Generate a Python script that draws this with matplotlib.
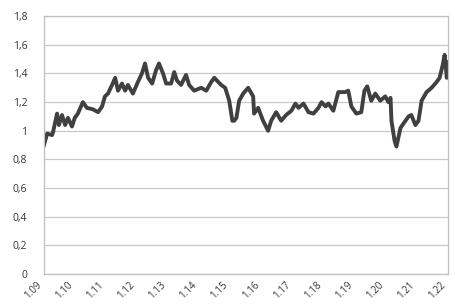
import numpy as np
import matplotlib
matplotlib.use('Agg')
import matplotlib.pyplot as plt

# traced points: x pixel position -> decimal year
years = [2009.00, 2009.10, 2009.26, 2009.29, 2009.42, 2009.48, 2009.58, 2009.68,
         2009.77, 2009.90, 2009.99, 2010.09, 2010.25, 2010.38, 2010.57, 2010.74,
         2010.87, 2010.96, 2011.06, 2011.19, 2011.29, 2011.38, 2011.51, 2011.61,
         2011.70, 2011.86, 2012.02, 2012.15, 2012.25, 2012.35, 2012.48, 2012.60,
         2012.70, 2012.83, 2012.93, 2013.09, 2013.19, 2013.28, 2013.41, 2013.57,
         2013.67, 2013.83, 2014.06, 2014.22, 2014.38, 2014.48, 2014.61, 2014.70,
         2014.83, 2014.96, 2015.06, 2015.12, 2015.19, 2015.28, 2015.41, 2015.57,
         2015.73, 2015.76, 2015.89, 2016.05, 2016.21, 2016.31, 2016.47, 2016.63,
         2016.79, 2016.96, 2017.09, 2017.19, 2017.35, 2017.51, 2017.67, 2017.83,
         2017.93, 2018.06, 2018.15, 2018.31, 2018.47, 2018.69, 2018.79, 2018.89,
         2019.05, 2019.21, 2019.31, 2019.40, 2019.53, 2019.66, 2019.82, 2019.98,
         2020.08, 2020.15, 2020.18, 2020.28, 2020.34, 2020.47, 2020.63, 2020.73,
         2020.82, 2020.95, 2021.05, 2021.15, 2021.31, 2021.47, 2021.63, 2021.73,
         2021.83, 2021.89, 2021.92, 2021.96, 2022.00]
values = [0.90, 0.98, 0.97, 0.99, 1.12, 1.04, 1.11, 1.04,
          1.09, 1.03, 1.09, 1.12, 1.20, 1.16, 1.15, 1.13,
          1.17, 1.24, 1.26, 1.32, 1.37, 1.28, 1.33, 1.28,
          1.32, 1.26, 1.34, 1.40, 1.47, 1.37, 1.33, 1.42,
          1.47, 1.40, 1.33, 1.33, 1.41, 1.35, 1.32, 1.39,
          1.32, 1.28, 1.30, 1.28, 1.34, 1.37, 1.34, 1.32,
          1.30, 1.21, 1.07, 1.07, 1.09, 1.21, 1.26, 1.30,
          1.24, 1.12, 1.16, 1.07, 1.00, 1.07, 1.13, 1.07,
          1.11, 1.14, 1.19, 1.16, 1.19, 1.13, 1.12, 1.16,
          1.20, 1.17, 1.19, 1.14, 1.27, 1.27, 1.28, 1.17,
          1.12, 1.13, 1.28, 1.31, 1.21, 1.26, 1.21, 1.24,
          1.20, 1.23, 1.07, 0.93, 0.89, 1.02, 1.07, 1.10,
          1.11, 1.04, 1.07, 1.21, 1.27, 1.30, 1.34, 1.37,
          1.46, 1.53, 1.47, 1.37, 1.48]

xtick_years = list(range(2009, 2023))
xtick_labels = ['1.%02d' % (y % 100) for y in xtick_years]
ytick_vals = [0, 0.2, 0.4, 0.6, 0.8, 1.0, 1.2, 1.4, 1.6, 1.8]
ytick_labels = ['0', '0,2', '0,4', '0,6', '0,8', '1', '1,2', '1,4', '1,6', '1,8']

plt.rcParams['font.family'] = ['Open Sans', 'DejaVu Sans']

fig = plt.figure(figsize=(4.56, 3.04), dpi=100)
ax = fig.add_axes([0.0965, 0.0987, 0.886, 0.848])

ax.plot(years, values, color='#404040', linewidth=2.8, solid_joinstyle='round')

ax.set_xlim(2009, 2022)
ax.set_ylim(0, 1.8)
ax.set_xticks(xtick_years)
ax.set_xticklabels(xtick_labels, rotation=45, ha='right', fontsize=7, color='#333333')
ax.set_yticks(ytick_vals)
ax.set_yticklabels(ytick_labels, fontsize=7.5, color='#333333')
ax.tick_params(length=0)
ax.tick_params(axis='x', pad=4)
ax.tick_params(axis='y', pad=12)
ax.yaxis.grid(True, color='#c8c8c8', linewidth=0.9)
ax.set_axisbelow(True)
for s in ax.spines.values():
    s.set_color('#bfbfbf')
    s.set_linewidth(0.9)

plt.savefig('out.png', dpi=100)
